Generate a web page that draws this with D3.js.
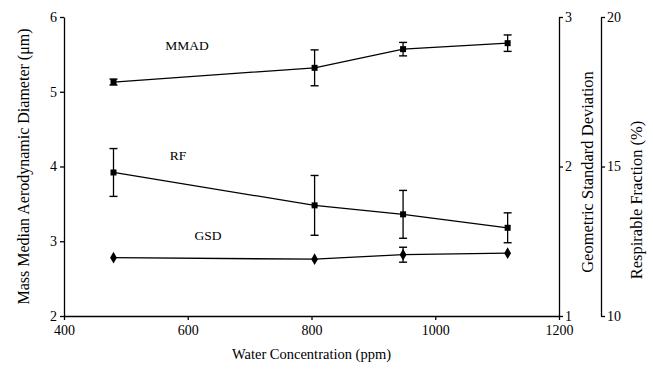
<!DOCTYPE html>
<html>
<head>
<meta charset="utf-8">
<script src="https://cdn.jsdelivr.net/npm/d3@7"></script>
<style>
  body { margin: 0; background: #fff; }
  .axis path, .axis line { stroke: #000; stroke-width: 1.3; }
</style>
</head>
<body>
<svg width="653" height="371"></svg>
<script>
// water concentration (ppm)
const water = [480, 805, 948, 1117];
// MMAD (um), left axis
const mmad = [5.13, 5.32, 5.57, 5.65];
const mmadErr = [0.04, 0.24, 0.09, 0.11];
// respirable fraction (%), far right axis
const rf = [14.8, 13.7, 13.4, 12.95];
const rfErr = [0.8, 1.0, 0.8, 0.5];
// geometric standard deviation, right axis
const gsd = [1.39, 1.38, 1.41, 1.42];
const gsdErr = [0, 0, 0.05, 0];

const xTicks = [400, 600, 800, 1000, 1200];
const mmadTicks = [2, 3, 4, 5, 6];
const gsdTicks = [1, 2, 3];
const rfTicks = [10, 15, 20];

const FONT = 'Liberation Serif';

const svg = d3.select('svg');

const plotL = 64, plotR = 559, plotT = 17, plotB = 316;
const fmt = d3.format('d');

const x = d3.scaleLinear().domain([400, 1200]).range([plotL, plotR]);
const yMmad = d3.scaleLinear().domain([2, 6]).range([plotB, plotT]);
const yGsd = d3.scaleLinear().domain([1, 3]).range([plotB, plotT]);
const yRf = d3.scaleLinear().domain([10, 20]).range([plotB, plotT]);

function styleAxis(g) {
  g.attr('font-family', FONT).attr('font-size', 14);
  g.selectAll('text').attr('fill', '#000');
}

// axes
svg.append('g').attr('class', 'axis')
  .attr('transform', `translate(0,${plotB})`)
  .call(d3.axisBottom(x).tickValues(xTicks).tickFormat(fmt).tickSize(4).tickPadding(5).tickSizeOuter(0))
  .call(styleAxis);

svg.append('g').attr('class', 'axis')
  .attr('transform', `translate(${plotL},0)`)
  .call(d3.axisLeft(yMmad).tickValues(mmadTicks).tickFormat(fmt).tickSize(4).tickPadding(3).tickSizeOuter(0))
  .call(styleAxis);

svg.append('g').attr('class', 'axis')
  .attr('transform', `translate(${plotR},0)`)
  .call(d3.axisRight(yGsd).tickValues(gsdTicks).tickFormat(fmt).tickSize(4).tickPadding(2).tickSizeOuter(0))
  .call(styleAxis);

svg.append('g').attr('class', 'axis')
  .attr('transform', `translate(601,0)`)
  .call(d3.axisRight(yRf).tickValues(rfTicks).tickFormat(fmt).tickSize(4).tickPadding(2).tickSizeOuter(0))
  .call(styleAxis);

// axis titles
const titles = [
  { t: 'Mass Median Aerodynamic Diameter (\u03bcm)', x: 25, y: (plotT + plotB) / 2, r: -90, s: 16 },
  { t: 'Geometric Standard Deviation', x: 589, y: 172, r: -90, s: 16.5 },
  { t: 'Respirable Fraction (%)', x: 638, y: 200, r: -90, s: 16.5 },
  { t: 'Water Concentration (ppm)', x: (plotL + plotR) / 2, y: 356, r: 0, s: 14.5 }
];
svg.selectAll('text.title').data(titles).enter().append('text')
  .attr('class', 'title')
  .attr('transform', d => `translate(${d.x},${d.y}) rotate(${d.r})`)
  .attr('text-anchor', 'middle').attr('dominant-baseline', 'middle')
  .attr('font-family', FONT).attr('font-size', d => d.s)
  .text(d => d.t);

// series
function drawSeries(vals, errs, yScale, shape) {
  const pts = water.map((w, i) => ({ x: x(w), y: yScale(vals[i]), lo: yScale(vals[i] - errs[i]), hi: yScale(vals[i] + errs[i]) }));
  const g = svg.append('g');
  g.append('path')
    .attr('d', d3.line().x(d => d.x).y(d => d.y)(pts))
    .attr('fill', 'none').attr('stroke', '#000').attr('stroke-width', 1.3);
  pts.forEach(p => {
    if (p.hi < p.lo - 1) {
      g.append('line').attr('x1', p.x).attr('x2', p.x).attr('y1', p.lo).attr('y2', p.hi)
        .attr('stroke', '#000').attr('stroke-width', 1.3);
      [p.lo, p.hi].forEach(yy => g.append('line')
        .attr('x1', p.x - 4).attr('x2', p.x + 4).attr('y1', yy).attr('y2', yy)
        .attr('stroke', '#000').attr('stroke-width', 1.4));
    }
  });
  g.selectAll('path.m').data(pts).enter().append('path')
    .attr('class', 'm')
    .attr('transform', d => `translate(${d.x},${d.y})`)
    .attr('d', d3.symbol().type(shape).size(shape === d3.symbolDiamond ? 40 : 36))
    .attr('fill', '#000');
}

drawSeries(mmad, mmadErr, yMmad, d3.symbolSquare);
drawSeries(rf, rfErr, yRf, d3.symbolSquare);
drawSeries(gsd, gsdErr, yGsd, d3.symbolDiamond);

// series labels
const labels = [
  { t: 'MMAD', x: 187, y: 47 },
  { t: 'RF', x: 178, y: 157 },
  { t: 'GSD', x: 208, y: 237 }
];
svg.selectAll('text.lab').data(labels).enter().append('text')
  .attr('class', 'lab')
  .attr('x', d => d.x).attr('y', d => d.y)
  .attr('text-anchor', 'middle').attr('dominant-baseline', 'middle')
  .attr('font-family', FONT).attr('font-size', 13.5)
  .text(d => d.t);
</script>
</body>
</html>
